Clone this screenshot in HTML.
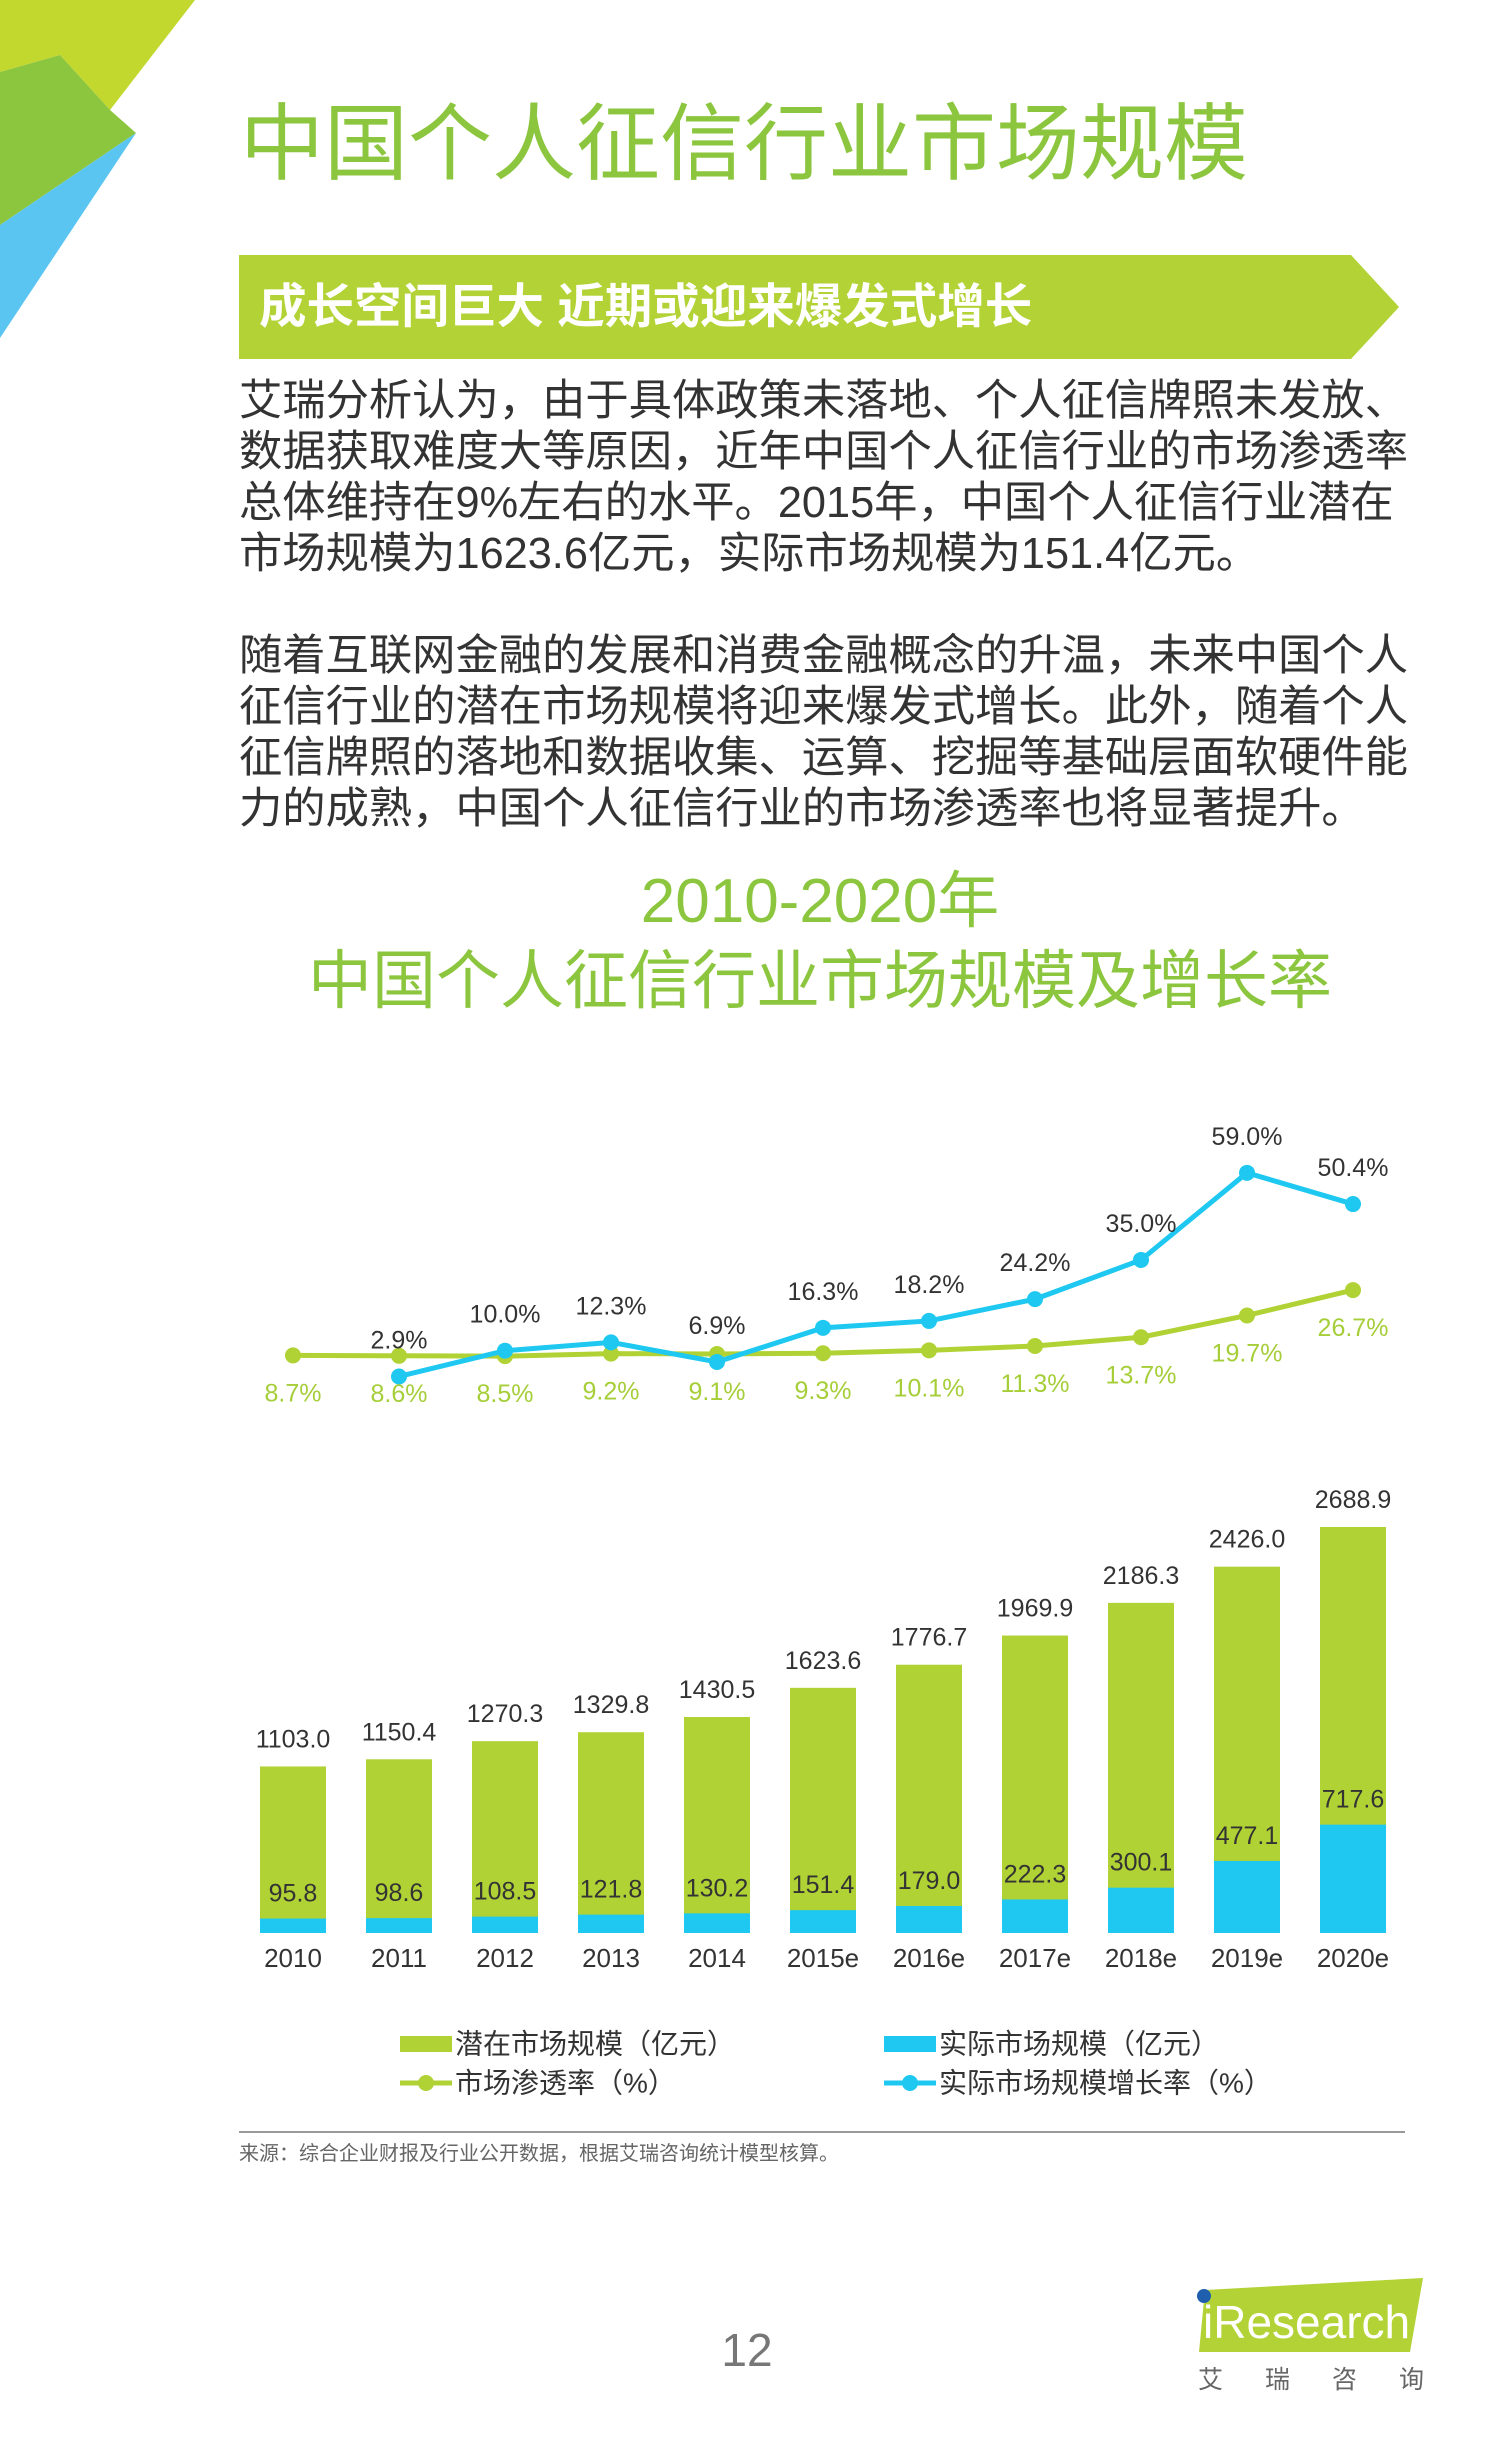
<!DOCTYPE html>
<html><head><meta charset="utf-8">
<style>
body{margin:0;background:#fff;}
#page{position:relative;width:1500px;height:2460px;overflow:hidden;background:#fff;font-family:"Liberation Sans","Noto Sans CJK SC",sans-serif;}
.abs{position:absolute;white-space:nowrap;}
.p{font-size:43.3px;color:#333;left:239px;line-height:51px;}
</style></head>
<body>
<div id="page">
<svg class="abs" style="left:0;top:0" width="220" height="345">
<polygon points="0,0 195,0 110,110 60,55 0,72" fill="#c3d82e"/>
<polygon points="0,72 60,55 110,110 136,133 0,225" fill="#8cc63f"/>
<polygon points="0,225 136,133 0,338" fill="#5bc5f1"/>
</svg>
<div class="abs" style="left:240px;top:94px;font-size:84px;line-height:100px;color:#8cc63f;">中国个人征信行业市场规模</div>
<svg class="abs" style="left:239px;top:255px" width="1165" height="105">
<polygon points="0,0 1112,0 1160,52 1112,104 0,104" fill="#b2d235"/>
</svg>
<div class="abs" style="left:259px;top:278px;font-size:47.5px;line-height:60px;color:#fff;font-weight:bold;">成长空间巨大 近期或迎来爆发式增长</div>
<div class="abs p" style="top:376px">艾瑞分析认为，由于具体政策未落地、个人征信牌照未发放、<br>数据获取难度大等原因，近年中国个人征信行业的市场渗透率<br>总体维持在9%左右的水平。2015年，中国个人征信行业潜在<br>市场规模为1623.6亿元，实际市场规模为151.4亿元。</div>
<div class="abs p" style="top:631px">随着互联网金融的发展和消费金融概念的升温，未来中国个人<br>征信行业的潜在市场规模将迎来爆发式增长。此外，随着个人<br>征信牌照的落地和数据收集、运算、挖掘等基础层面软硬件能<br>力的成熟，中国个人征信行业的市场渗透率也将显著提升。</div>
<div class="abs" style="left:0;width:1640px;text-align:center;top:862px;font-size:62px;line-height:80px;color:#8cc63f;">2010-2020年</div>
<div class="abs" style="left:0;width:1640px;text-align:center;top:940px;font-size:64px;line-height:82px;color:#8cc63f;">中国个人征信行业市场规模及增长率</div>

<svg id="chart" class="abs" style="left:0;top:0" width="1500" height="2460"></svg>

<div class="abs" style="left:239px;top:2131px;width:1166px;height:2px;background:#9a9a9a;"></div>
<div class="abs" style="left:239px;top:2141px;font-size:20px;line-height:26px;color:#666;">来源：综合企业财报及行业公开数据，根据艾瑞咨询统计模型核算。</div>
<div class="abs" style="left:700px;width:94px;text-align:center;top:2323px;font-size:46px;line-height:54px;color:#777;">12</div>
<svg class="abs" style="left:1195px;top:2278px" width="235" height="80">
<polygon points="10,12 228,0 215,74 4,74" fill="#b2d235"/>
<circle cx="9" cy="18" r="7" fill="#1f5fae"/>
<text x="8" y="60" font-size="46" fill="#fff" font-family="Liberation Sans, sans-serif">iResearch</text>
</svg>
<div class="abs" style="left:1198px;top:2364px;font-size:25px;line-height:32px;color:#666;letter-spacing:42px;">艾瑞咨询</div>
</div>
<script>
const categories=["2010","2011","2012","2013","2014","2015e","2016e","2017e","2018e","2019e","2020e"];
const potentialMarket=[1103.0,1150.4,1270.3,1329.8,1430.5,1623.6,1776.7,1969.9,2186.3,2426.0,2688.9];
const actualMarket=[95.8,98.6,108.5,121.8,130.2,151.4,179.0,222.3,300.1,477.1,717.6];
const penetrationRate=[8.7,8.6,8.5,9.2,9.1,9.3,10.1,11.3,13.7,19.7,26.7];
const actualGrowthRate=[null,2.9,10.0,12.3,6.9,16.3,18.2,24.2,35.0,59.0,50.4];

const svg=document.getElementById('chart');
const NS='http://www.w3.org/2000/svg';
const GREEN='#b0d235',BLUE='#1ec8f0';
const BASE=1933;
function xPos(i){return 293+i*106;}
function yBar(v){return BASE-v*0.151;}
function yLine(v){return 1387-v*3.63;}
function mk(tag,attrs,parent){const e=document.createElementNS(NS,tag);for(const k in attrs)e.setAttribute(k,attrs[k]);(parent||svg).appendChild(e);return e;}
function txt(x,y,s,fill,size){const t=mk('text',{x:x,y:y,'text-anchor':'middle','font-size':size||25,fill:fill,'font-family':'Liberation Sans, Noto Sans CJK SC, sans-serif','dominant-baseline':'central'});t.textContent=s;return t;}

categories.forEach((c,i)=>{
  const x=xPos(i),w=66;
  const b1=mk('rect',{x:x-w/2,y:yBar(potentialMarket[i]),width:w,height:BASE-yBar(potentialMarket[i]),fill:GREEN});
  
  
  const b2=mk('rect',{x:x-w/2,y:yBar(actualMarket[i]),width:w,height:BASE-yBar(actualMarket[i]),fill:BLUE});
  
  
  const l1=txt(x,yBar(potentialMarket[i])-27,potentialMarket[i].toFixed(1),'#333');
  
  
  const l2=txt(x,yBar(actualMarket[i])-25,actualMarket[i].toFixed(1),'#333');
  
  
  const xl=txt(x,BASE+25,c,'#333',26);
  
  
});

function drawLine(vals,color,name){
  let d='';
  vals.forEach((v,i)=>{if(v===null)return;d+=(d?'L':'M')+xPos(i)+','+yLine(v);});
  const p=mk('path',{d:d,fill:'none',stroke:color,'stroke-width':5});
  
  
  vals.forEach((v,i)=>{if(v===null)return;
    const c=mk('circle',{cx:xPos(i),cy:yLine(v),r:8,fill:color});
    
    
  });
}
drawLine(penetrationRate,GREEN,'penetration-rate');
drawLine(actualGrowthRate,BLUE,'growth-rate');
penetrationRate.forEach((v,i)=>{
  const t=txt(xPos(i),yLine(v)+38,v.toFixed(1)+'%','#a6ce39');
  
  
});
actualGrowthRate.forEach((v,i)=>{if(v===null)return;
  const t=txt(xPos(i),yLine(v)-36,v.toFixed(1)+'%','#333');
  
  
});

const legendItems=[
 {x:400,y:2044,type:'rect',color:GREEN,label:'潜在市场规模（亿元）',name:'legend-potential'},
 {x:884,y:2044,type:'rect',color:BLUE,label:'实际市场规模（亿元）',name:'legend-actual'},
 {x:400,y:2083,type:'line',color:GREEN,label:'市场渗透率（%）',name:'legend-penetration'},
 {x:884,y:2083,type:'line',color:BLUE,label:'实际市场规模增长率（%）',name:'legend-growth'}];
legendItems.forEach(it=>{
  const g=mk('g',{});
  
  
  if(it.type==='rect')mk('rect',{x:it.x,y:it.y-8,width:52,height:16,fill:it.color},g);
  else{mk('line',{x1:it.x,y1:it.y,x2:it.x+52,y2:it.y,stroke:it.color,'stroke-width':5},g);mk('circle',{cx:it.x+26,cy:it.y,r:8,fill:it.color},g);}
  const t=mk('text',{x:it.x+55,y:it.y,'font-size':28,fill:'#333','dominant-baseline':'central','font-family':'Liberation Sans, Noto Sans CJK SC, sans-serif'},g);
  t.textContent=it.label;
});
</script>
</body></html>
